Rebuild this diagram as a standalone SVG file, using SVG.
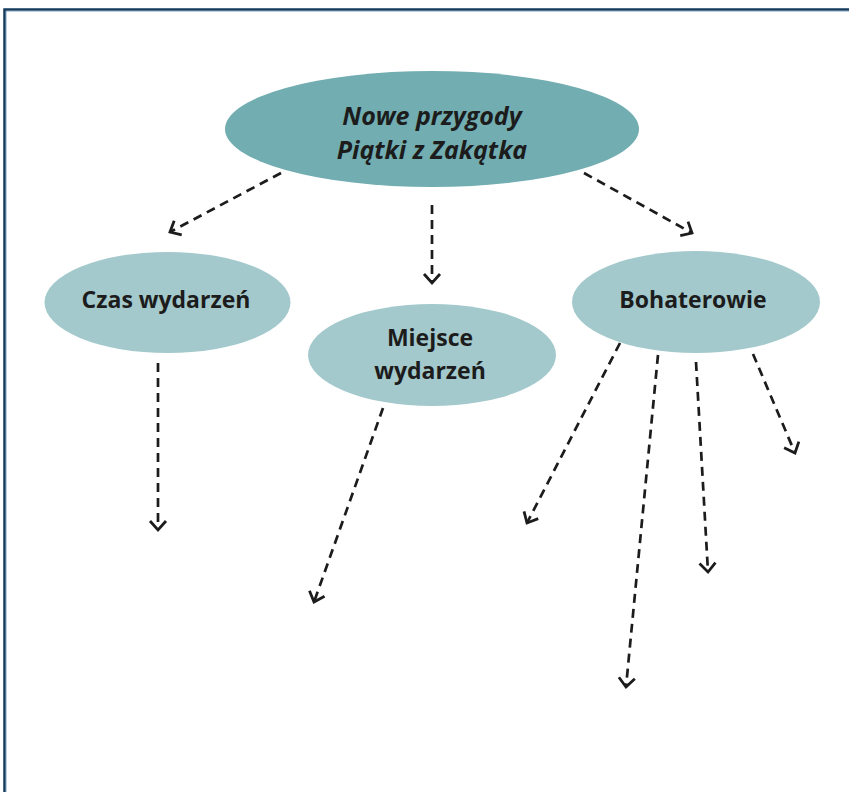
<svg xmlns="http://www.w3.org/2000/svg" width="849" height="792" viewBox="0 0 849 792">
<style>
.main{fill:#71adb1}
.sub{fill:#a3c9cc}
.t{font-family:"Open Sans","Liberation Sans",sans-serif;font-weight:bold;font-size:23px;fill:#1c1c1c;text-anchor:middle}
.ti{font-style:italic;font-size:25px}
.c{fill:none;stroke:#1c1c1c;stroke-width:2.7;stroke-dasharray:9 6;marker-end:url(#ah)}
</style>
<defs>
<marker id="ah" markerUnits="userSpaceOnUse" markerWidth="20" markerHeight="20" refX="12" refY="8" orient="auto" overflow="visible">
<path d="M3,0 L12,8 L3,16" fill="none" stroke="#1c1c1c" stroke-width="2.8" stroke-dasharray="none"/>
</marker>
</defs>
<rect width="849" height="792" fill="#ffffff"/>
<path d="M4.5,800 V9.5 H860" fill="none" stroke="#143a5c" stroke-width="2.5"/>
<path d="M6,800 V11 H860" fill="none" stroke="#5a86ac" stroke-width="0.8"/>
<g id="connectors">
<line class="c" x1="281" y1="173" x2="170" y2="232"/>
<line class="c" x1="432" y1="205" x2="432" y2="283"/>
<line class="c" x1="584" y1="173" x2="692" y2="233"/>
<line class="c" x1="158" y1="363" x2="158" y2="530"/>
<line class="c" x1="383" y1="408" x2="314" y2="602"/>
<line class="c" x1="620" y1="343" x2="527" y2="523"/>
<line class="c" x1="658" y1="355" x2="626" y2="687"/>
<line class="c" x1="696" y1="362" x2="708" y2="572"/>
<line class="c" x1="753" y1="354" x2="795" y2="453"/>
</g>
<g id="node-main">
<ellipse class="main" cx="432" cy="129" rx="207" ry="58"/>
<text class="t ti" x="432" y="125">Nowe przygody</text>
<text class="t ti" x="432" y="159">Piątki z Zakątka</text>
</g>
<g id="node-czas">
<ellipse class="sub" cx="167.5" cy="302.5" rx="123" ry="50.5"/>
<text class="t" x="166" y="308">Czas wydarzeń</text>
</g>
<g id="node-miejsce">
<ellipse class="sub" cx="432" cy="355" rx="124" ry="51"/>
<text class="t" x="430" y="346">Miejsce</text>
<text class="t" x="430" y="379">wydarzeń</text>
</g>
<g id="node-bohaterowie">
<ellipse class="sub" cx="696" cy="302" rx="124" ry="51"/>
<text class="t" x="693" y="308">Bohaterowie</text>
</g>
</svg>
